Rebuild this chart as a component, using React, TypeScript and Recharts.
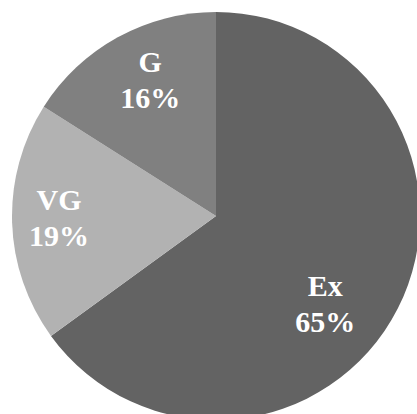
import { Cell, Pie, PieChart } from "recharts";

const CATEGORIES = ["Ex", "VG", "G"];
const PERCENTS = [65, 19, 16];
const COLORS = ["#636363", "#b2b2b2", "#808080"];

// small nudges so labels sit where the original put them
const LABEL_NUDGE: Record<string, { dx: number; dy: number }> = {
  Ex: { dx: -27, dy: 17 },
  VG: { dx: -4, dy: -5 },
  G: { dx: 8, dy: -4 },
};

const data = CATEGORIES.map((name, i) => ({ name, value: PERCENTS[i] }));

const RADIAN = Math.PI / 180;

function renderLabel(props: any) {
  const { cx, cy, midAngle, outerRadius, name, value } = props;
  const r = outerRadius * 0.75;
  const nudge = LABEL_NUDGE[name] ?? { dx: 0, dy: 0 };
  const x = cx + r * Math.cos(-midAngle * RADIAN) + nudge.dx;
  const y = cy + r * Math.sin(-midAngle * RADIAN) + nudge.dy;
  return (
    <text
      x={x}
      y={y}
      fill="#ffffff"
      textAnchor="middle"
      fontFamily="'Liberation Serif', 'Times New Roman', serif"
      fontWeight="bold"
      fontSize={30}
    >
      <tspan x={x} dy={-6}>
        {name}
      </tspan>
      <tspan x={x} dy={36}>
        {`${value}%`}
      </tspan>
    </text>
  );
}

export default function App() {
  return (
    <div style={{ position: "absolute", left: 0, top: 0, width: 417, height: 414, background: "#fff" }}>
      <PieChart width={417} height={414} margin={{ top: 0, right: 0, bottom: 0, left: 0 }}>
        <Pie
          data={data}
          dataKey="value"
          nameKey="name"
          cx={216}
          cy={216}
          outerRadius={204}
          startAngle={90}
          endAngle={-270}
          stroke="none"
          label={renderLabel}
          labelLine={false}
          isAnimationActive={false}
        >
          {data.map((d, i) => (
            <Cell key={d.name} fill={COLORS[i]} />
          ))}
        </Pie>
      </PieChart>
    </div>
  );
}
